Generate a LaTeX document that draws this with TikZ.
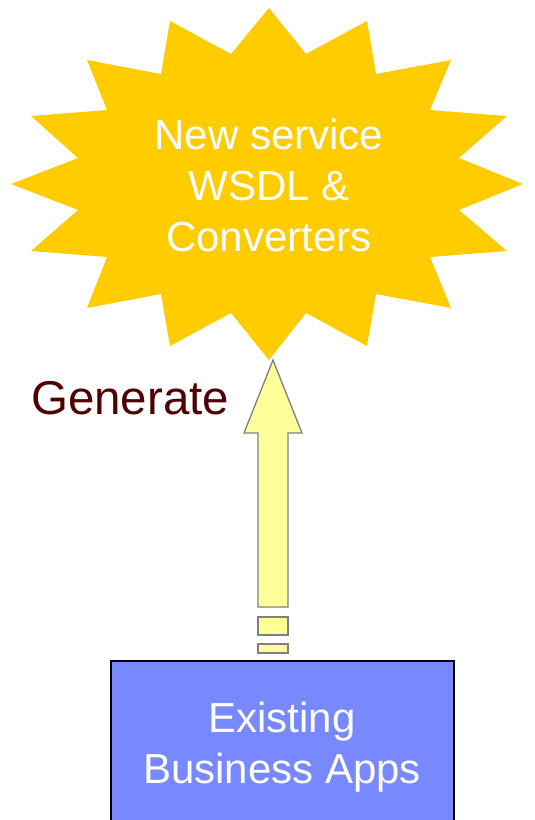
\documentclass[tikz,border=0pt]{standalone}
\usepackage{fontspec}
\setmainfont{Liberation Sans}
\definecolor{burst}{HTML}{FFCC00}
\definecolor{arrowfill}{HTML}{FFFF99}
\definecolor{arrowline}{HTML}{808080}
\definecolor{appsblue}{HTML}{7888FF}
\definecolor{labelred}{HTML}{500000}
\tikzset{
  bigtext/.style={font=\fontsize{42}{51}\selectfont, text=white, align=center, inner sep=0pt},
  arrowpart/.style={fill=arrowfill, draw=arrowline, line width=1.3pt, line join=miter},
  appsbox/.style={fill=appsblue, draw=black, line width=1.5pt}
}
\begin{document}
\begin{tikzpicture}[x=1pt, y=-1pt]
\useasboundingbox (0,0) rectangle (535,820);

% sixteen-point burst
\fill[burst] (269,8) -- (306,54) -- (367,21) -- (376,74) -- (451,60) -- (430,110)
  -- (507,116) -- (459,158) -- (523,184) -- (459,210) -- (507,251) -- (430,257)
  -- (451,308) -- (376,294) -- (367,346) -- (306,313) -- (269,360) -- (231,313)
  -- (170,346) -- (161,294) -- (87,308) -- (107,257) -- (31,251) -- (78,210)
  -- (11,184) -- (78,158) -- (31,116) -- (107,110) -- (87,60) -- (161,74)
  -- (170,21) -- (231,54) -- cycle;
% the base anchor of a multi-line node sits on its last line
\node[bigtext, anchor=base] (burst) at (269,251) {New service\\WSDL \&\\Converters};

% source box
\draw[appsbox] (111,661) rectangle (454,840);
\node[bigtext, anchor=base] (apps) at (282,783) {Existing\\Business Apps};

% block arrow with broken tail
\coordinate (tip) at (273,360);
\draw[arrowpart] (tip) -- (302,433) -- (288,433) -- (288,607) -- (258,607)
  -- (258,433) -- (244,433) -- cycle;
\draw[arrowpart] (258,617) rectangle (288,635);
\draw[arrowpart] (258,644) rectangle (288,653);

\node[font=\fontsize{47.5}{52}\selectfont, text=labelred, anchor=base west, inner sep=0pt]
  (generate) at (31,414) {Generate};
\end{tikzpicture}
\end{document}
